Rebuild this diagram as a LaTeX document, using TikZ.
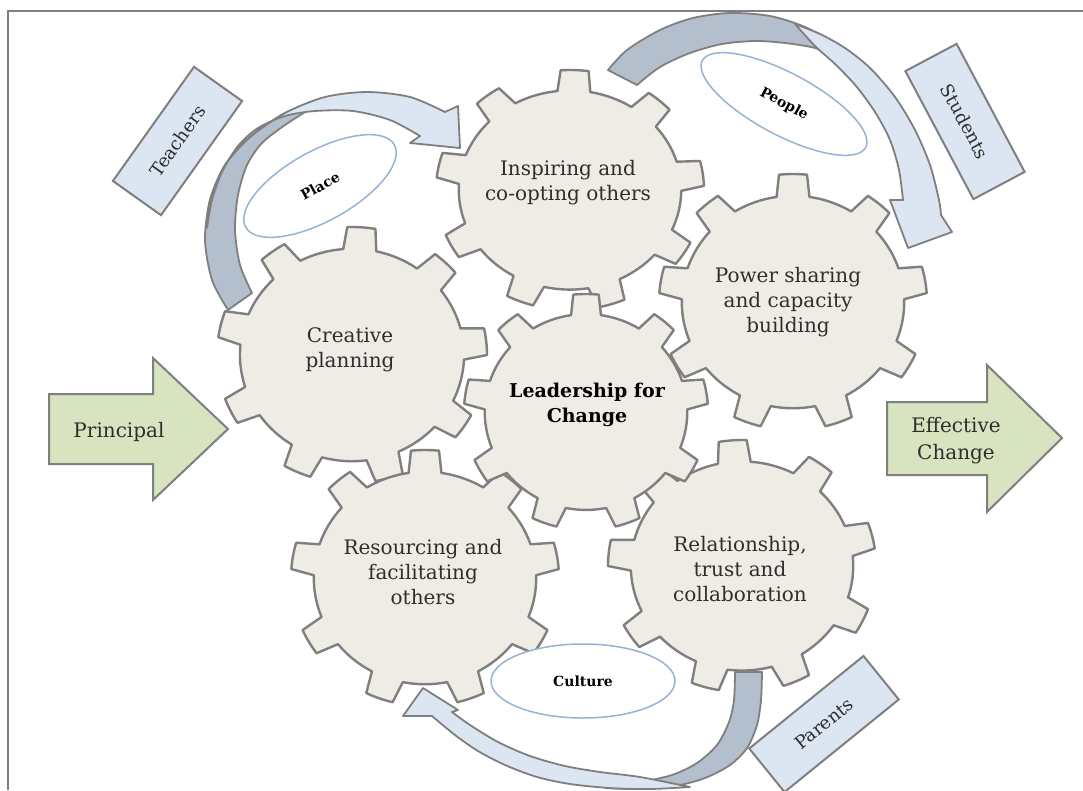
\documentclass[tikz,border=0pt]{standalone}
\usepackage{fontspec}
\setmainfont{DejaVu Serif}
\usetikzlibrary{shapes.geometric}
\definecolor{gearfill}{HTML}{EEECE4}
\definecolor{gearline}{HTML}{7F7F7F}
\definecolor{lblue}{HTML}{DCE6F2}
\definecolor{dblue}{HTML}{B4BFCD}
\definecolor{lgreen}{HTML}{D8E4BF}
\definecolor{ellline}{HTML}{95B3D7}
\definecolor{txt}{HTML}{2E2E2E}
\tikzset{
  gearshape/.style={fill=gearfill, draw=gearline, line width=2.4pt, line join=round},
  geartext/.style={align=center, text=txt, inner sep=0pt, font=\fontsize{20}{25}\selectfont},
  lightarr/.style={fill=lblue, draw=gearline, line width=1.8pt, line join=round},
  darkarr/.style={fill=dblue, draw=gearline, line width=1.8pt, line join=round},
  greenarr/.style={fill=lgreen, draw=gearline, line width=2pt, line join=miter},
  rectbox/.style={draw=gearline, fill=lblue, line width=2pt, text=txt, inner sep=0pt,
    font=\fontsize{18}{20}\selectfont},
  ovalbox/.style={ellipse, draw=ellline, fill=white, line width=1.5pt, inner sep=0pt,
    text=black, font=\fontsize{14}{16}\selectfont\bfseries},
  frameline/.style={draw=gearline, line width=1.5pt}
}
\newcommand{\drawgear}[5]{%
  \begin{scope}[shift={(#1,#2)}, xscale=#3, yscale=-#4]
    \path[gearshape] ({#5+90-8.5}:0.83)
    \foreach \i in {0,...,8}{
      -- ({#5+90+40*\i-6}:1) arc[start angle={#5+90+40*\i-6}, end angle={#5+90+40*\i+6}, radius=1]
      -- ({#5+90+40*\i+8.5}:0.83) arc[start angle={#5+90+40*\i+8.5}, end angle={#5+90+40*\i+31.5}, radius=0.83]
    } -- cycle;
  \end{scope}}
\begin{document}
\begin{tikzpicture}[x=1pt, y=-1pt]
\useasboundingbox (0,0) rectangle (1083,790);
\fill[white] (0,0) rectangle (1083,790);
\draw[frameline] (8,790) -- (8,11) -- (1083,11);

% curved arrow: Place
\filldraw[darkarr] plot[smooth] coordinates {(228,310) (212,280) (205,240) (210,200) (225,165) (250,137) (285,113) (312,103)}
  -- plot[smooth] coordinates {(310,109) (285,125) (262,143) (247,165) (238,195) (235,230) (240,265) (252,293)} -- cycle;
\filldraw[lightarr] plot[smooth] coordinates {(207,228) (210,200) (225,165) (250,137) (285,113) (325,97) (367,92) (410,97) (445,112)}
  -- (458,106) -- (460,148) -- (410,143)
  -- plot[smooth] coordinates {(420,136) (390,120) (353,111) (315,111) (285,116) (258,128) (238,146) (222,172) (212,200) (207,228)} -- cycle;

% curved arrow: People
\filldraw[darkarr] plot[smooth] coordinates {(608,70) (627,50) (660,30) (693,18) (730,13) (770,16) (805,27) (840,46)}
  -- plot[smooth] coordinates {(838,58) (815,48) (785,43) (755,41) (722,44) (690,53) (660,67) (637,85)} -- cycle;
\filldraw[lightarr] plot[smooth] coordinates {(795,24) (820,34) (845,48) (870,68) (895,97) (915,130) (930,165) (939,200) (941,215)}
  -- (952,232) -- (908,248) -- (890,200)
  -- plot[smooth] coordinates {(903,200) (899,170) (890,140) (875,112) (856,86) (835,64) (815,46) (795,24)} -- cycle;

% curved arrow: Culture
\filldraw[darkarr] plot[smooth] coordinates {(762,672) (761,700) (757,725) (747,748) (730,765) (705,778) (675,786) (640,789) (605,788)}
  -- plot[smooth] coordinates {(605,786) (640,782) (672,775) (697,763) (717,745) (729,722) (734,700) (735,672)} -- cycle;
\filldraw[lightarr] plot[smooth] coordinates {(690,787) (650,789) (610,788) (570,784) (537,777) (505,765) (478,751) (455,735) (432,716)}
  -- (403,716) -- (423,688) -- (458,710)
  -- plot[smooth] coordinates {(452,712) (470,725) (498,742) (530,756) (565,766) (600,772) (640,777) (690,787)} -- cycle;

% gears
\drawgear{570}{190}{134}{120}{-2}
\drawgear{793}{302}{134}{128}{0}
\drawgear{352}{355}{135}{128}{-4}
\drawgear{425}{578}{134}{128}{0}
\drawgear{742}{566}{134}{126}{4}
\drawgear{586}{412}{122}{118}{0}

\node[geartext] (insp) at (568,183) {Inspiring and\\co-opting others};
\node[geartext] (power) at (788,302) {Power sharing\\and capacity\\building};
\node[geartext] (creative) at (350,350) {Creative\\planning};
\node[geartext] (resource) at (423,572) {Resourcing and\\facilitating\\others};
\node[geartext] (relation) at (740,569) {Relationship,\\trust and\\collaboration};
\node[geartext, font=\fontsize{19}{25}\selectfont\bfseries, text=black] (lead) at (587,405) {Leadership for\\Change};

% ovals
\node[ovalbox, minimum width=170pt, minimum height=70pt, rotate=29] (place) at (320,186) {Place};
\node[ovalbox, minimum width=185pt, minimum height=62pt, rotate=-28] (people) at (784,104) {People};
\node[ovalbox, minimum width=184pt, minimum height=74pt] (culture) at (583,681) {Culture};

% boxes
\node[rectbox, minimum width=140pt, minimum height=59pt, rotate=54.6] (teachers) at (177.5,141) {Teachers};
\node[rectbox, minimum width=145pt, minimum height=58pt, rotate=-62] (students) at (965,121.5) {Students};
\node[rectbox, minimum width=147pt, minimum height=56pt, rotate=39] (parents) at (824,724) {Parents};

% big arrows
\draw[greenarr] (49,394) -- (153,394) -- (153,358) -- (228,429) -- (153,500) -- (153,464) -- (49,464) -- cycle;
\node[geartext] (principal) at (119,432) {Principal};
\draw[greenarr] (887,402) -- (987,402) -- (987,365) -- (1062,438) -- (987,512) -- (987,475) -- (887,475) -- cycle;
\node[geartext, font=\fontsize{20}{27}\selectfont] (effective) at (956,441) {Effective\\Change};
\end{tikzpicture}
\end{document}
